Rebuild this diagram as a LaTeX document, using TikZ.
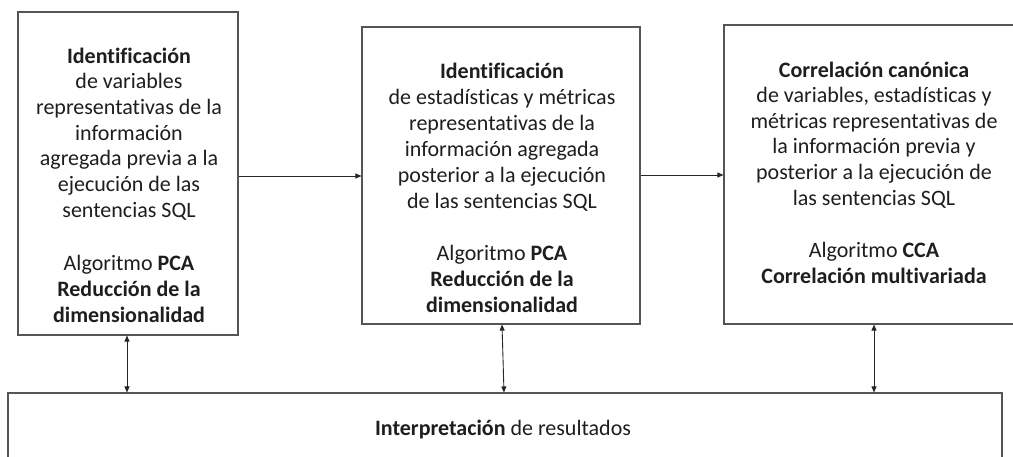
\documentclass[tikz,border=0pt]{standalone}
\usepackage{fontspec}
\setmainfont{Carlito}[Ligatures=NoCommon]
\usetikzlibrary{arrows.meta}
\definecolor{boxgray}{HTML}{555555}
\definecolor{arrgray}{HTML}{262626}
\definecolor{txtcol}{HTML}{1E1E1E}
\newcommand{\boxtext}[1]{\begin{tabular}[t]{@{}c@{}}#1\end{tabular}}
\begin{document}
\begin{tikzpicture}[x=1pt,y=-1pt,
  box/.style={draw=boxgray, line width=1.1pt, inner sep=0pt, fill=none},
  txt/.style={inner sep=0pt, anchor=base, text=txtcol,
    font=\fontsize{22}{25.7}\selectfont},
  arr/.style={draw=arrgray, line width=0.9pt, {Triangle[length=6pt,width=5pt]}-{Triangle[length=6pt,width=5pt]}},
  arrs/.style={draw=arrgray, line width=0.9pt, -{Triangle[length=6pt,width=5pt]}}]
\useasboundingbox (0,0) rectangle (1013,456);
\fill[white] (0,0) rectangle (1013,456);
% boxes
\node[box, minimum width=220pt, minimum height=323pt] (b1) at (128,173.5) {};
\node[box, minimum width=278pt, minimum height=297pt] (b2) at (501,175.5) {};
\node[box, minimum width=292pt, minimum height=299pt] (b3) at (870,174.5) {};
\node[box, minimum width=994pt, minimum height=70pt] (b4) at (505,428) {};
% texts
\node[txt] (t1) at (129,63) {\boxtext{\textbf{Identificación}\\de variables\\representativas de la\\información\\agregada previa a la\\ejecución de las\\sentencias SQL\\[28pt]Algoritmo \textbf{PCA}\\\textbf{Reducción de la}\\\textbf{dimensionalidad}}};
\node[txt, font=\fontsize{22}{26}\selectfont] (t2) at (502,78) {\boxtext{\textbf{Identificación}\\de estadísticas y métricas\\representativas de la\\información agregada\\posterior a la ejecución\\de las sentencias SQL\\[26pt]Algoritmo \textbf{PCA}\\\textbf{Reducción de la}\\\textbf{dimensionalidad}}};
\node[txt, font=\fontsize{22}{25.6}\selectfont] (t3) at (874,77) {\boxtext{\textbf{Correlación canónica}\\de variables, estadísticas y\\métricas representativas de\\la información previa y\\posterior a la ejecución de\\las sentencias SQL\\[27pt]Algoritmo \textbf{CCA}\\\textbf{Correlación multivariada}}};
\node[txt] (t4) at (503,435) {\textbf{Interpretación} de resultados};
% connectors
\draw[arrs] (b1.east |- 0,176) -- (b2.west |- 0,176);
\draw[arrs] (b2.east |- 0,175) -- (b3.west |- 0,175);
\draw[arr] (b1.south -| 127,0) -- (b4.north -| 127,0);
\draw[arr] (b2.south -| 502,0) -- (b4.north -| 504,0);
\draw[arr] (b3.south -| 874,0) -- (b4.north -| 874,0);
\end{tikzpicture}
\end{document}
